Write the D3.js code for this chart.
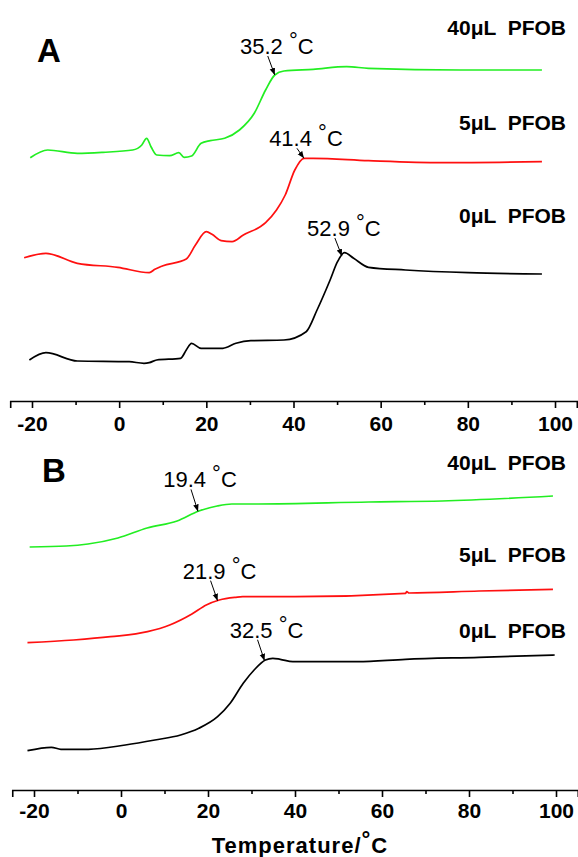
<!DOCTYPE html>
<html>
<head>
<meta charset="utf-8">
<script src="https://cdn.jsdelivr.net/npm/d3@7"></script>
<style>
  body { margin: 0; background: #fff; }
  text { font-family: "Liberation Sans", Arial, sans-serif; }
</style>
</head>
<body>
<script>
// ---- data (temperature in °C, heat flow in arbitrary units, offset per curve) ----
const majorTicks = [-20, 0, 20, 40, 60, 80, 100];
const minorTicks = [-10, 10, 30, 50, 70, 90];
const tickLabels = ["-20", "0", "20", "40", "60", "80", "100"];

const seriesNames = ["40μL  PFOB", "5μL  PFOB", "0μL  PFOB"];

// Panel A
const tempA40 = [-20.4, -16.4, -9.6, -3.7, 3.1, 5.2, 6.3, 7.3, 8.6, 11.6, 13.7, 14.9, 16.6, 18.8, 20.9, 24.2, 27.6, 31.0, 33.6, 35.7, 37.8, 44.5, 52.2, 57.2, 78.4, 97.0];
const valA40  = [24.33, 25.1, 24.77, 24.87, 25.1, 25.6, 26.27, 25.43, 24.6, 24.53, 24.83, 24.37, 24.5, 25.77, 26.03, 26.27, 27.1, 28.77, 31.1, 32.6, 33.0, 33.17, 33.43, 33.27, 33.1, 33.1];

const tempA5 = [-21.8, -16.8, -9.6, -0.3, 6.9, 8.2, 9.9, 15.4, 17.5, 20.0, 21.3, 23.4, 25.9, 28.5, 33.6, 36.1, 38.1, 40.3, 42.4, 44.5, 57.2, 74.1, 97.0];
const valA5  = [14.33, 14.77, 13.77, 13.37, 12.83, 13.17, 13.5, 14.2, 15.6, 16.93, 16.67, 16.03, 15.93, 16.6, 17.83, 19.1, 20.6, 23.1, 24.27, 24.27, 24.03, 23.83, 23.93];

const tempA0 = [-20.6, -16.8, -9.6, 2.3, 5.7, 6.9, 8.6, 14.1, 15.4, 16.6, 18.8, 23.8, 26.8, 30.2, 37.8, 42.9, 45.4, 48.4, 50.1, 51.7, 53.8, 57.2, 65.7, 80.1, 97.0];
const valA0  = [4.1, 4.83, 4.0, 3.93, 3.77, 3.83, 4.1, 4.27, 5.1, 5.77, 5.27, 5.27, 5.77, 6.03, 6.1, 6.93, 9.1, 12.1, 13.93, 14.83, 14.27, 13.37, 13.1, 12.83, 12.7];

// Panel B
const tempB40 = [-21.0, -12.6, -7.6, -0.7, 6.0, 12.9, 17.9, 22.1, 25.5, 31.5, 57.0, 73.8, 99.3];
const valB40  = [24.3, 24.4, 24.6, 25.2, 26.2, 26.9, 27.9, 28.4, 28.6, 28.6, 28.8, 28.9, 29.4];

const tempB5 = [-21.5, -10.9, -2.4, 6.1, 11.2, 16.3, 19.6, 22.6, 26.4, 28.0, 40.0, 65.4, 65.7, 66.2, 82.3, 99.3];
const valB5  = [14.73, 15.0, 15.33, 15.83, 16.5, 17.6, 18.5, 19.0, 19.27, 19.33, 19.33, 19.67, 19.83, 19.7, 19.9, 20.07];

const tempB0 = [-21.5, -16.0, -13.8, -7.5, 1.0, 7.8, 13.7, 17.9, 22.2, 25.1, 28.1, 30.6, 33.2, 34.9, 36.6, 39.5, 54.4, 65.4, 82.3, 99.7];
const valB0  = [3.93, 4.27, 4.07, 4.07, 4.5, 5.0, 5.5, 6.17, 7.33, 8.67, 10.67, 12.0, 13.0, 13.17, 13.07, 12.83, 12.83, 13.07, 13.27, 13.5];

// transition annotations: label value and where the arrow touches the curve
const annLabelsA = ["35.2", "41.4", "52.9"];
const annTipsA   = [35.7, 42.4, 51.1];
const annLabelsB = ["19.4", "21.9", "32.5"];
const annTipsB   = [17.7, 22.2, 33.0];

// ---- layout ----
const W = 578, H = 857;
const colors = ["#22ee22", "#ff1010", "#000000"];

const svg = d3.select("body").append("svg")
  .attr("width", W).attr("height", H)
  .style("display", "block");

const defs = svg.append("defs");
defs.append("marker")
  .attr("id", "arrow")
  .attr("viewBox", "0 0 10 10")
  .attr("refX", 10).attr("refY", 5)
  .attr("markerWidth", 7).attr("markerHeight", 7)
  .attr("markerUnits", "userSpaceOnUse")
  .attr("orient", "auto")
  .append("path")
  .attr("d", "M0,1 L10,5 L0,9 Z")
  .attr("fill", "#000");

function zip(t, v) {
  return t.map((d, i) => ({ t: d, v: v[i] }));
}

function valueAt(pts, t) {
  const i = d3.bisector(d => d.t).left(pts, t);
  if (i <= 0) return pts[0].v;
  if (i >= pts.length) return pts[pts.length - 1].v;
  const a = pts[i - 1], b = pts[i];
  return a.v + (b.v - a.v) * (t - a.t) / (b.t - a.t);
}

// "°C" with a raised degree ring
function degC(text) {
  text.append("tspan").attr("dy", -6).text("°");
  text.append("tspan").attr("dy", 6).text("C");
}

function drawPanel(cfg) {
  const g = svg.append("g");
  const x = d3.scaleLinear().domain([-25, 105]).range(cfg.xRange);
  const y = d3.scaleLinear().domain(cfg.yDomain).range(cfg.yRange);
  const axisY = cfg.yRange[0];

  const line = d3.line()
    .x(d => x(d.t))
    .y(d => y(d.v))
    .curve(d3.curveMonotoneX);

  const series = cfg.series.map(s => zip(s[0], s[1]));

  g.selectAll(".curve")
    .data(series)
    .enter()
    .append("path")
    .attr("class", "curve")
    .attr("d", line)
    .attr("fill", "none")
    .attr("stroke", (d, i) => colors[i])
    .attr("stroke-width", 1.7)
    .attr("stroke-linejoin", "round");

  // axes: major ticks with labels, minor ticks without
  const major = g.append("g")
    .attr("transform", `translate(0,${axisY})`)
    .call(d3.axisBottom(x)
      .tickValues(majorTicks)
      .tickSize(7)
      .tickPadding(cfg.tickPad)
      .tickFormat((d, i) => tickLabels[i]));
  major.select(".domain").attr("stroke-width", 1.6);
  major.selectAll(".tick line").attr("stroke-width", 1.6);
  major.selectAll(".tick text")
    .attr("font-family", null)
    .style("font-size", "21px")
    .style("font-weight", "bold")
    .attr("fill", "#000");

  const minor = g.append("g")
    .attr("transform", `translate(0,${axisY})`)
    .call(d3.axisBottom(x).tickValues(minorTicks).tickSize(4).tickFormat(""));
  minor.select(".domain").remove();
  minor.selectAll(".tick line").attr("stroke-width", 1.6);

  // panel letter
  g.append("text")
    .attr("x", cfg.letterPos[0]).attr("y", cfg.letterPos[1])
    .style("font-size", "33px").style("font-weight", "bold")
    .text(cfg.letter);

  // series labels
  g.selectAll(".slabel")
    .data(seriesNames)
    .enter()
    .append("text")
    .attr("class", "slabel")
    .attr("x", 566)
    .attr("y", (d, i) => cfg.labelY[i])
    .attr("text-anchor", "end")
    .style("font-size", "21px").style("font-weight", "bold")
    .style("white-space", "pre")
    .attr("xml:space", "preserve")
    .text(d => d);

  // transition annotations
  cfg.annLabels.forEach((lab, i) => {
    const tx = x(cfg.annTips[i]);
    const ty = y(valueAt(series[i], cfg.annTips[i]));
    const lift = cfg.lift[i];
    g.append("line")
      .attr("x1", tx - 7).attr("y1", ty - lift + 2)
      .attr("x2", tx).attr("y2", ty)
      .attr("stroke", "#000").attr("stroke-width", 1)
      .attr("marker-end", "url(#arrow)");
    const t = g.append("text")
      .attr("x", tx + 2).attr("y", ty - lift)
      .attr("text-anchor", "middle")
      .style("font-size", "22px")
      .style("white-space", "pre")
      .attr("xml:space", "preserve");
    t.append("tspan").text(lab + " ");
    degC(t);
  });
}

drawPanel({
  letter: "A",
  letterPos: [37, 62],
  xRange: [10.2, 576.8],
  yDomain: [0, 39],
  yRange: [401, 11],
  tickPad: 8,
  series: [[tempA40, valA40], [tempA5, valA5], [tempA0, valA0]],
  labelY: [35, 130, 223],
  annLabels: annLabelsA,
  annTips: annTipsA,
  lift: [21, 12, 20]
});

drawPanel({
  letter: "B",
  letterPos: [42, 482],
  xRange: [12.25, 577.75],
  yDomain: [0, 35],
  yRange: [790, 440],
  tickPad: 6,
  series: [[tempB40, valB40], [tempB5, valB5], [tempB0, valB0]],
  labelY: [470, 562, 638],
  annLabels: annLabelsB,
  annTips: annTipsB,
  lift: [24, 22, 23]
});

// x axis title
const title = svg.append("text")
  .attr("x", 300).attr("y", 853)
  .attr("text-anchor", "middle")
  .style("font-size", "22px").style("font-weight", "bold")
  .style("letter-spacing", "1px");
title.append("tspan").text("Temperature/");
degC(title);
</script>
</body>
</html>
